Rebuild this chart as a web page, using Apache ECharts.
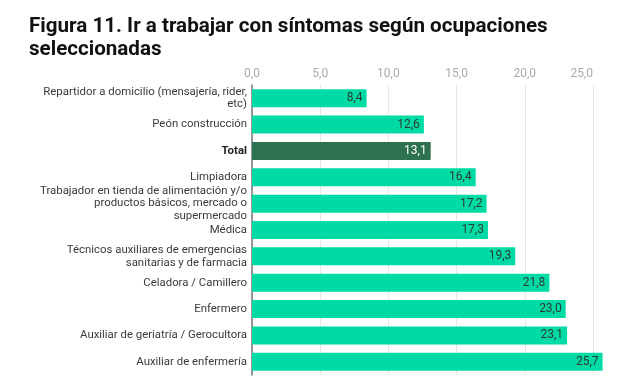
<!DOCTYPE html>
<html><head><meta charset="utf-8">
<script src="https://cdn.jsdelivr.net/npm/echarts@6/dist/echarts.min.js"></script>
<style>html,body{margin:0;padding:0;background:#fff}#c{width:630px;height:384px}</style>
</head><body><div id="c"></div>
<script>
const titleText = "Figura 11. Ir a trabajar con síntomas según ocupaciones\nseleccionadas";
const categories = [
  "Repartidor a domicilio (mensajería, rider,\netc)",
  "Peón construcción",
  "Total",
  "Limpiadora",
  "Trabajador en tienda de alimentación y/o\nproductos básicos, mercado o\nsupermercado",
  "Médica",
  "Técnicos auxiliares de emergencias\nsanitarias y de farmacia",
  "Celadora / Camillero",
  "Enfermero",
  "Auxiliar de geriatría / Gerocultora",
  "Auxiliar de enfermería"
];
const values = [8.4, 12.6, 13.1, 16.4, 17.2, 17.3, 19.3, 21.8, 23.0, 23.1, 25.7];
const highlighted = ["Total"];
const axisMin = 0, axisMax = 25, axisInterval = 5;

const light = "#00DBA5", dark = "#2E7150";
const data = values.map((v, i) => {
  const hl = highlighted.includes(categories[i]);
  return {
    value: v,
    itemStyle: { color: hl ? dark : light },
    label: { color: hl ? "#ffffff" : "#2b3a33" }
  };
});

const chart = echarts.init(document.getElementById('c'), null, {renderer: 'canvas'});
chart.setOption({
  animation: false,
  title: {
    text: titleText, left: 24, top: 10,
    textStyle: { fontFamily: 'Roboto', fontWeight: 'bold', fontSize: 20.6, lineHeight: 23, color: '#111' }
  },
  grid: { left: 252, right: 37, top: 85, bottom: 9, containLabel: false },
  xAxis: {
    type: 'value', position: 'top', min: axisMin, max: axisMax, interval: axisInterval,
    axisLine: { show: false }, axisTick: { show: false },
    splitLine: { lineStyle: { color: '#e6e6e6', width: 1 } },
    axisLabel: {
      color: '#aaaaaa', fontFamily: 'Roboto', fontSize: 12, margin: 5,
      alignMaxLabel: 'right',
      formatter: v => v.toFixed(1).replace('.', ',')
    }
  },
  yAxis: {
    type: 'category', inverse: true, data: categories,
    axisLine: { show: true, lineStyle: { color: '#777', width: 1.5 } },
    axisTick: { show: false },
    axisLabel: {
      fontFamily: 'Roboto', fontSize: 11.4, lineHeight: 12.6, color: '#3a3a3a', margin: 5, align: 'right',
      formatter: v => highlighted.includes(v) ? '{b|' + v + '}' : v,
      rich: { b: { fontWeight: 'bold', fontFamily: 'Roboto', fontSize: 11.4, color: '#222' } }
    }
  },
  series: [{
    type: 'bar', data: data, barWidth: 18, clip: false,
    label: {
      show: true, position: 'insideRight', distance: 4,
      fontFamily: 'Roboto', fontSize: 12,
      formatter: p => p.value.toFixed(1).replace('.', ',')
    }
  }]
});
</script></body></html>
